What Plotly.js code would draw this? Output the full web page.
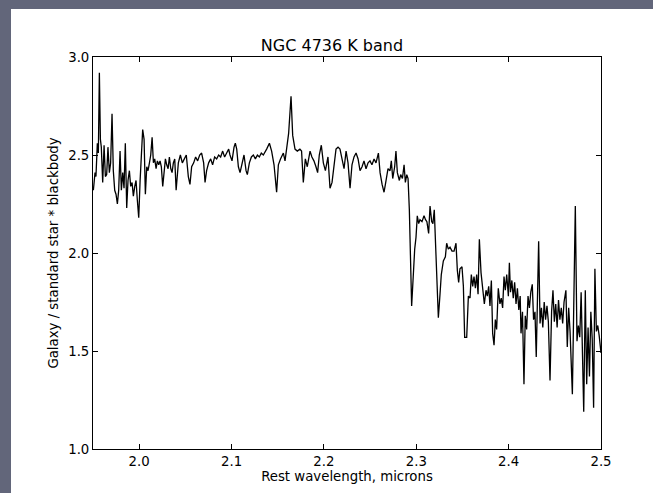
<!DOCTYPE html>
<html>
<head>
<meta charset="utf-8">
<script src="https://cdn.plot.ly/plotly-3.0.1.min.js"></script>
<style>
  html, body { margin: 0; padding: 0; width: 653px; height: 493px; overflow: hidden;
    background: #62667a; }
  #chart { position: absolute; left: 11px; top: 9px; width: 642px; height: 484px; }
</style>
</head>
<body>
<div id="chart"></div>
<script>
const wavelength = [
1.9504,1.9522,1.9532,1.9547,1.9558,1.9569,1.9580,1.9590,1.9605,1.9620,1.9634,1.9648,1.9662,1.9677,1.9691,1.9706,1.9720,1.9735,1.9749,1.9764,
1.9778,1.9793,1.9807,1.9822,1.9836,1.9850,1.9865,1.9879,1.9894,1.9908,1.9923,1.9937,1.9952,1.9966,1.9980,1.9995,2.0010,2.0024,2.0038,2.0053,
2.0067,2.0082,2.0096,2.0111,2.0125,2.0140,2.0154,2.0168,2.0183,2.0197,2.0212,2.0226,2.0240,2.0255,2.0270,2.0284,2.0298,2.0313,2.0327,2.0342,
2.0356,2.0370,2.0385,2.0400,2.0424,2.0446,2.0467,2.0492,2.0510,2.0532,2.0550,2.0568,2.0590,2.0611,2.0633,2.0655,2.0676,2.0698,2.0713,2.0730,
2.0752,2.0774,2.0795,2.0817,2.0839,2.0860,2.0882,2.0904,2.0925,2.0947,2.0969,2.0983,2.1005,2.1027,2.1041,2.1056,2.1074,2.1092,2.1113,2.1135,
2.1157,2.1171,2.1193,2.1215,2.1236,2.1258,2.1280,2.1301,2.1322,2.1344,2.1380,2.1410,2.1434,2.1460,2.1488,2.1507,2.1530,2.1561,2.1579,2.1597,
2.1618,2.1644,2.1662,2.1687,2.1712,2.1740,2.1758,2.1777,2.1799,2.1820,2.1850,2.1870,2.1892,2.1914,2.1932,2.1950,2.1972,2.1994,2.2016,2.2044,
2.2066,2.2088,2.2110,2.2131,2.2153,2.2174,2.2196,2.2218,2.2240,2.2261,2.2283,2.2304,2.2326,2.2348,2.2370,2.2391,2.2413,2.2434,2.2456,2.2478,
2.2499,2.2520,2.2543,2.2564,2.2590,2.2608,2.2630,2.2651,2.2673,2.2694,2.2716,2.2730,2.2745,2.2766,2.2780,2.2795,2.2817,2.2831,2.2850,2.2868,
2.2882,2.2897,2.2911,2.2925,2.2950,2.2968,2.2983,2.2997,2.3011,2.3026,2.3040,2.3062,2.3084,2.3100,2.3115,2.3134,2.3149,2.3167,2.3180,2.3195,
2.3213,2.3239,2.3257,2.3271,2.3293,2.3315,2.3329,2.3347,2.3365,2.3387,2.3409,2.3430,2.3445,2.3459,2.3473,2.3495,2.3510,2.3524,2.3546,2.3564,
2.3582,2.3596,2.3611,2.3625,2.3640,2.3654,2.3669,2.3683,2.3701,2.3719,2.3737,2.3755,2.3769,2.3784,2.3798,2.3813,2.3827,2.3842,2.3856,2.3870,
2.3888,2.3906,2.3920,2.3935,2.3950,2.3964,2.3979,2.3997,2.4008,2.4020,2.4035,2.4050,2.4065,2.4080,2.4095,2.4110,2.4125,2.4134,2.4150,2.4166,
2.4180,2.4195,2.4210,2.4225,2.4240,2.4256,2.4270,2.4285,2.4299,2.4325,2.4340,2.4355,2.4370,2.4385,2.4400,2.4415,2.4430,2.4448,2.4465,2.4480,
2.4495,2.4510,2.4525,2.4540,2.4555,2.4570,2.4585,2.4600,2.4620,2.4635,2.4650,2.4665,2.4690,2.4722,2.4740,2.4755,2.4770,2.4785,2.4800,2.4813,
2.4830,2.4845,2.4860,2.4875,2.4890,2.4905,2.4920,2.4934,2.4950,2.4965,2.4980,2.5000
];
const ratio = [
2.32,2.41,2.39,2.56,2.51,2.92,2.58,2.54,2.36,2.55,2.39,2.40,2.54,2.41,2.46,2.71,2.42,2.32,2.30,2.25,
2.32,2.52,2.32,2.41,2.33,2.56,2.23,2.37,2.42,2.34,2.36,2.29,2.34,2.37,2.27,2.18,2.37,2.49,2.63,2.58,
2.30,2.44,2.42,2.46,2.50,2.59,2.46,2.48,2.43,2.47,2.45,2.47,2.44,2.34,2.44,2.48,2.45,2.43,2.49,2.43,
2.41,2.46,2.48,2.32,2.46,2.50,2.46,2.48,2.50,2.39,2.35,2.44,2.46,2.49,2.47,2.50,2.51,2.46,2.36,2.42,
2.46,2.48,2.45,2.49,2.48,2.50,2.49,2.52,2.49,2.51,2.53,2.50,2.47,2.54,2.56,2.53,2.44,2.41,2.46,2.50,
2.42,2.40,2.46,2.49,2.50,2.48,2.50,2.49,2.51,2.50,2.53,2.56,2.52,2.45,2.31,2.45,2.48,2.51,2.47,2.54,
2.61,2.80,2.60,2.53,2.52,2.53,2.52,2.36,2.48,2.44,2.52,2.49,2.47,2.44,2.41,2.50,2.55,2.46,2.42,2.49,
2.33,2.36,2.46,2.53,2.54,2.53,2.48,2.43,2.52,2.46,2.33,2.45,2.49,2.51,2.48,2.42,2.44,2.47,2.43,2.46,
2.47,2.45,2.48,2.46,2.51,2.41,2.35,2.31,2.37,2.43,2.42,2.47,2.38,2.44,2.52,2.41,2.37,2.40,2.38,2.45,
2.36,2.40,2.38,2.22,1.73,1.91,2.02,2.08,2.19,2.15,2.17,2.16,2.19,2.17,2.16,2.10,2.24,2.16,2.15,2.22,
1.96,1.67,1.79,1.89,1.96,1.98,2.05,2.02,2.03,2.01,2.01,2.05,1.91,1.85,1.92,1.93,1.83,1.57,1.57,1.78,
1.77,1.89,1.83,1.88,1.82,1.89,1.79,2.07,1.90,1.83,1.74,1.81,1.78,1.83,1.73,1.86,1.59,1.53,1.66,1.61,
1.82,1.74,1.77,1.72,1.88,1.81,1.89,1.78,1.95,1.80,1.86,1.77,1.85,1.74,1.82,1.71,1.78,1.59,1.70,1.33,
1.68,1.61,1.78,1.72,1.80,1.84,1.66,1.70,1.47,2.06,1.64,1.72,1.62,1.75,1.66,1.73,1.65,1.35,1.70,1.81,
1.65,1.74,1.62,1.76,1.66,1.72,1.64,1.75,1.81,1.52,1.72,1.60,1.28,2.24,1.55,1.63,1.57,1.80,1.47,1.19,
1.81,1.33,1.62,1.37,1.70,1.56,1.21,1.92,1.60,1.63,1.58,1.49
];
const xTicks = [2.0, 2.1, 2.2, 2.3, 2.4, 2.5];
const xTickLabels = ['2.0', '2.1', '2.2', '2.3', '2.4', '2.5'];
const yTicks = [1.0, 1.5, 2.0, 2.5, 3.0];
const yTickLabels = ['1.0', '1.5', '2.0', '2.5', '3.0'];
const titleText = 'NGC 4736 K band';
const xTitle = 'Rest wavelength, microns';
const yTitle = 'Galaxy / standard star * blackbody';

const fam = 'DejaVu Sans, sans-serif';
const axisCommon = {
  showline: true, linecolor: '#000', linewidth: 1, mirror: 'ticks',
  ticks: 'inside', ticklen: 5, tickwidth: 1, tickcolor: '#000',
  showgrid: false, zeroline: false, tickfont: {family: fam, size: 13.3, color: '#000'}
};
Plotly.newPlot('chart', [{
  x: wavelength, y: ratio, type: 'scatter', mode: 'lines',
  line: {color: '#000', width: 1.3}, hoverinfo: 'skip'
}], {
  width: 642, height: 484,
  margin: {l: 82, r: 52, t: 48, b: 44},
  paper_bgcolor: '#fff', plot_bgcolor: '#fff',
  font: {family: fam, size: 13.3, color: '#000'},
  showlegend: false,
  title: {text: titleText, font: {family: fam, size: 16, color: '#000'}, x: 0.5, xanchor: 'center', xref: 'container', y: 0.924, yanchor: 'middle'},
  xaxis: Object.assign({}, axisCommon, {
    range: [1.95, 2.5], tickvals: xTicks, ticktext: xTickLabels,
    title: {text: xTitle, font: {family: fam, size: 13.3, color: '#000'}, standoff: 2}
  }),
  yaxis: Object.assign({}, axisCommon, {
    range: [1.0, 3.0], tickvals: yTicks, ticktext: yTickLabels,
    title: {text: yTitle, font: {family: fam, size: 13.3, color: '#000'}, standoff: 6}
  })
}, {staticPlot: true, displayModeBar: false});
</script>
</body>
</html>
